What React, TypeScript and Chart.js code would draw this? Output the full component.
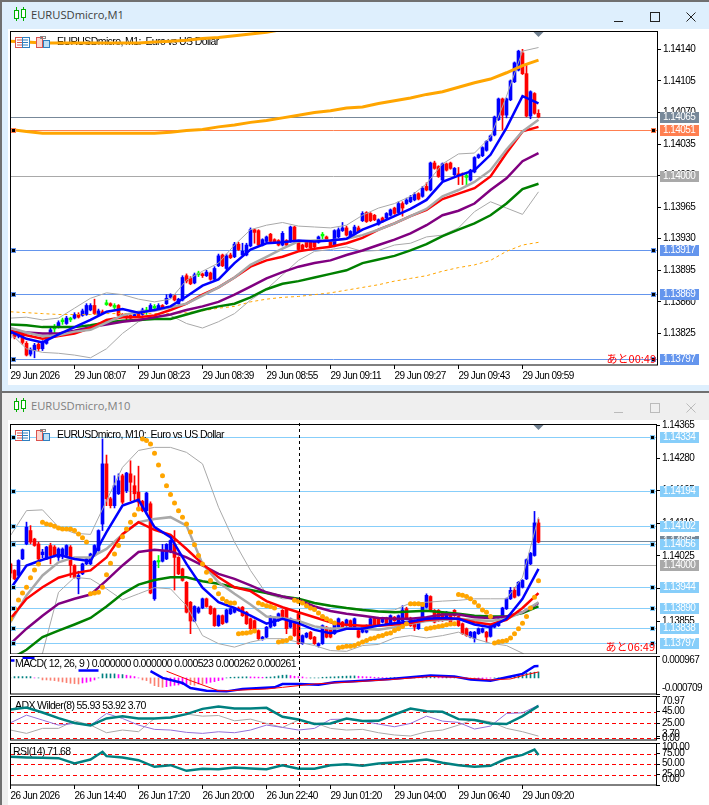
import React, { useEffect, useRef } from "react";
import { Chart, registerables } from "chart.js";
Chart.register(...registerables);

// All prices are in points above 1.13000 (824 = 1.13824, 1014 = 1.14014)
const sampleBars = Array.from({ length: 34 }, (_, k) => k * 4);
const allBars = Array.from({ length: 133 }, (_, k) => k);
const tickBars = [0, 16, 32, 48, 64, 80, 96, 112, 128];
const crosshairBar = 72;

const m1TimeLabels = ["29 Jun 2026","29 Jun 08:07","29 Jun 08:23","29 Jun 08:39","29 Jun 08:55","29 Jun 09:11","29 Jun 09:27","29 Jun 09:43","29 Jun 09:59"];
const m10TimeLabels = ["26 Jun 2026","26 Jun 14:40","26 Jun 17:20","26 Jun 20:00","26 Jun 22:40","29 Jun 01:20","29 Jun 04:00","29 Jun 06:40","29 Jun 09:20"];
const m1PriceTicks = [1140,1105,1070,1035,1000,965,930,895,860,825];
const m10PriceTicks = [1365,1280,1195,1110,1025,940,855];

const m1Open = [824,824,822,823,814,802,806,813,808,814,822,831,832,839,836,841,842,846,845,846,851,856,846,849,858,858,855,856,846,845,845,844,847,846,850,850,854,852,856,858,865,867,858,862,889,886,881,891,891,889,892,885,900,912,897,912,910,924,912,912,922,940,939,923,927,935,929,928,923,928,927,943,926,923,926,926,927,926,934,932,927,922,932,939,942,933,935,942,950,959,958,956,946,953,953,956,964,959,969,969,971,973,980,977,988,984,1014,1010,995,1013,1014,1001,1002,1002,999,995,1004,1020,1022,1028,1039,1045,1062,1085,1067,1084,1104,1117,1136,1113,1066,1091,1069];
const m1High = [832,826,828,825,816,809,814,815,817,820,831,835,839,842,844,843,848,848,852,858,858,863,852,851,862,859,858,857,847,846,846,848,848,853,854,858,857,858,857,868,869,868,864,889,891,888,892,894,892,895,893,899,913,913,913,914,926,926,925,925,942,941,940,930,933,936,930,929,938,929,944,944,927,924,927,927,928,933,937,933,928,940,942,948,944,939,945,944,960,960,959,957,952,954,959,963,965,971,971,975,978,981,981,988,992,1015,1016,1011,1014,1014,1015,1009,1009,1003,1002,1007,1021,1024,1032,1039,1045,1066,1086,1086,1086,1106,1126,1139,1140,1123,1094,1092,1073];
const m1Low = [820,819,820,813,800,800,798,806,806,813,821,826,831,835,835,838,841,842,844,845,850,846,845,847,856,855,852,844,843,840,841,843,843,845,846,849,851,851,852,857,864,861,857,861,881,879,880,888,887,888,884,884,899,899,895,908,909,917,911,911,921,925,922,922,926,926,925,922,922,922,926,926,917,917,920,919,920,925,930,927,921,921,931,938,933,932,934,937,949,948,949,950,945,948,952,955,957,958,955,968,970,972,973,976,983,983,1007,998,994,1005,1007,1000,990,990,989,994,1003,1019,1021,1027,1038,1044,1061,1051,1064,1083,1103,1116,1112,1065,1063,1068,1064];
const m1Close = [828,821,826,815,801,807,812,808,815,818,829,831,837,839,842,841,846,843,850,856,856,847,850,848,858,856,855,845,845,843,842,846,844,851,850,856,854,856,853,864,868,862,863,887,883,880,890,891,889,893,885,897,911,900,911,909,924,918,916,923,940,937,923,929,932,927,926,923,936,923,943,927,918,918,921,920,921,932,934,928,922,939,940,942,934,938,943,938,958,949,950,951,951,949,958,962,958,969,964,973,976,979,974,986,984,1014,1008,999,1013,1006,1008,1008,1001,1001,999,1006,1020,1023,1031,1038,1044,1065,1085,1067,1085,1105,1125,1138,1113,1066,1093,1069,1065];

const m1Blue = [827,819,815,824,832,840,849,852,848,851,855,866,878,885,903,918,925,926,928,927,928,930,940,947,955,963,973,993,1000,1006,1023,1053,1088,1080];
const m1Red = [828,823,819,822,825,831,840,843,843,845,851,858,868,876,887,899,906,910,916,919,921,925,931,940,947,955,962,974,980,986,999,1025,1049,1054];
const m1Gray = [831,826,822,823,827,829,837,845,849,850,854,858,867,876,887,901,910,919,927,928,928,930,934,940,947,955,963,977,984,993,1006,1029,1049,1062];
const m1Purple = [827,826,825,825,828,832,835,838,840,843,846,851,855,860,868,877,886,893,899,903,906,912,917,923,929,936,945,956,961,969,984,997,1016,1025];
const m1Green = [835,834,832,832,832,834,837,839,840,841,841,846,851,855,858,865,874,880,883,887,891,895,903,907,911,917,924,933,940,947,956,969,985,991];
const m1BandUp = [842,843,840,842,853,864,870,868,863,860,863,884,894,903,923,940,945,948,944,943,942,945,956,964,969,977,991,1013,1024,1025,1043,1088,1138,1142];
const m1BandLow = [825,808,804,803,801,798,808,825,838,843,845,836,831,838,847,862,874,890,906,916,918,921,916,917,923,925,932,934,942,960,971,964,957,982];
const m1OrangeA = [1051,1049,1047,1047,1047,1047,1047,1047,1047,1047,1048,1050,1051,1054,1056,1059,1061,1064,1067,1070,1072,1075,1076,1080,1083,1086,1090,1093,1098,1103,1107,1114,1122,1128];
const m1OrangeB = [1149,1148,1147,1147,1147,1147,1147,1147,1147,1148,1149,1150,1152,1153,1155,1157,1159,1162,1165,1168];
const m1OrangeDash = [849,848,847,846,846,846,847,847,847,847,847,848,850,853,855,860,863,865,866,868,870,873,876,879,883,886,889,894,898,901,906,916,923,926];

const m10Open = [1004,987,974,1017,1056,1091,1069,1056,1028,1017,1052,1048,1021,1026,1026,1048,1000,965,978,1004,1004,1026,1039,1108,1265,1174,1156,1187,1234,1195,1239,1208,1191,1167,1143,1161,913,1011,1011,1017,1035,1056,1021,991,956,904,855,878,889,913,893,887,843,869,852,874,878,889,891,878,861,856,830,809,813,839,843,856,883,887,839,856,874,796,813,826,813,791,796,839,835,822,839,852,843,856,839,830,826,826,843,863,863,852,863,848,865,852,856,887,863,856,835,854,891,919,883,883,878,858,874,883,867,848,835,813,809,822,826,826,815,839,843,861,887,913,935,922,943,965,1004,1026,1111];
const m10High = [1006,989,1015,1043,1113,1104,1071,1061,1042,1050,1058,1052,1046,1046,1054,1052,1002,985,1006,1019,1032,1054,1093,1330,1288,1178,1234,1239,1238,1243,1273,1234,1259,1170,1191,1166,1013,1026,1055,1057,1067,1091,1023,993,958,906,895,892,915,915,895,889,871,871,886,889,889,892,893,880,863,858,832,815,841,869,867,876,885,889,863,858,876,819,825,828,815,798,845,841,837,854,863,854,860,858,863,832,841,845,863,865,865,865,865,871,867,871,895,891,865,858,860,898,926,921,885,885,880,880,876,885,869,850,837,828,828,837,837,828,845,850,863,891,915,943,943,958,963,1017,1034,1141,1121];
const m10Low = [969,963,972,1015,1054,1056,1050,1013,1020,1015,1004,1022,1013,1017,1024,969,967,926,976,1002,1002,1024,1037,1091,1156,1150,1150,1185,1161,1190,1169,1169,1143,1140,1134,926,909,994,1009,1015,1033,936,976,959,876,822,853,875,887,891,872,841,841,846,850,872,876,881,867,846,833,830,807,805,811,837,841,854,859,822,837,815,794,794,811,807,794,787,794,811,811,820,837,837,841,837,837,811,824,824,841,841,841,850,846,846,854,850,854,861,841,830,833,852,889,881,850,854,854,856,850,867,841,820,815,811,800,820,824,800,813,837,841,859,885,911,915,920,941,963,1002,1024,1059];
const m10Close = [980,965,1013,1041,1100,1061,1052,1017,1035,1048,1026,1026,1043,1043,1052,1000,969,974,1004,1017,1030,1052,1091,1265,1174,1156,1208,1221,1165,1241,1217,1187,1165,1143,1189,928,1011,1011,1037,1055,1065,1021,978,961,878,855,893,889,913,893,874,843,869,848,884,887,887,883,869,848,835,832,809,813,839,867,865,874,861,835,861,817,796,817,823,809,796,796,843,813,813,852,861,839,858,839,861,813,839,843,861,843,843,863,848,869,856,869,884,863,843,839,858,896,922,883,852,856,856,878,852,869,843,822,817,826,826,835,835,813,843,848,861,889,913,935,917,956,961,1015,1032,1111,1061];

const m10Blue = [939,1000,1015,1028,1017,1011,1087,1156,1171,1100,1074,1004,942,904,889,869,848,861,849,832,823,835,835,843,849,854,861,863,861,846,839,861,913,991];
const m10Red = [861,913,943,968,980,987,1021,1082,1113,1093,1080,1043,1004,969,943,933,907,891,878,865,852,845,843,843,846,850,858,861,861,852,846,858,889,928];
const m10Gray = [852,922,974,1008,1021,1021,1043,1081,1113,1121,1126,1104,1004,956,926,898,867,863,855,841,835,837,835,832,839,848,855,858,861,858,855,861,878,904];
const m10Purple = [796,835,869,900,913,924,961,1000,1035,1041,1037,1021,1000,978,965,948,930,919,910,893,881,874,869,863,861,861,865,872,872,865,863,867,878,902];
const m10Green = [756,780,813,830,846,863,893,926,950,962,969,969,959,952,943,936,928,919,913,902,895,889,884,880,878,880,882,878,874,869,867,867,876,893];
const m10BandUp = [1078,1143,1145,1100,1084,1081,1169,1256,1300,1308,1308,1295,1265,1152,1061,987,926,913,913,900,893,889,887,882,884,902,904,907,909,913,913,913,969,1126];
const m10BandLow = [726,726,771,930,969,965,939,910,926,942,939,895,817,796,787,800,809,809,800,791,778,776,791,794,811,817,811,817,826,809,797,791,771,735];
const m10Sar = [861,887,910,928,943,968,988,1004,1113,1108,1106,1102,1098,1095,1095,1095,1091,1082,1072,1061,926,928,930,943,976,1006,1030,1052,1075,1095,1113,1132,1147,1330,1326,1317,1293,1262,1234,1208,1185,1163,1143,1126,1108,1087,1054,1026,1004,982,961,943,926,913,906,902,902,822,823,824,826,829,902,898,895,893,889,800,802,804,811,909,906,902,895,889,885,876,867,861,856,850,785,787,789,789,791,796,800,804,809,811,815,817,822,824,830,835,841,848,900,900,900,898,835,837,839,841,843,845,847,848,924,922,919,913,904,895,884,878,867,798,801,802,804,811,822,835,849,867,889,917,960];

// MACD values in millionths
const macdHist = [0,59,59,59,59,59,0,0,-89,-89,-104,-119,-148,-178,-208,-237,-252,-267,-222,-193,-148,-89,0,178,178,178,178,148,148,119,89,59,0,-89,-119,-237,-341,-386,-415,-386,-356,-326,-311,-297,-267,-297,-326,-267,-267,-237,-193,-163,-119,-89,0,30,35,40,45,50,45,40,35,30,35,40,59,89,119,125,104,74,59,44,0,0,0,0,30,35,44,50,59,74,80,85,89,74,59,50,44,30,20,15,10,10,15,15,20,20,15,15,10,15,30,40,44,40,30,30,20,20,0,0,-30,-40,-44,-40,-30,-20,-10,0,0,15,30,59,104,148,178,208,237,252,261];
const macdLineBars = [0,1,2,3,6,7,17,22,23,35,38,43,45,49,54,58,66,68,72,77,81,86,95,105,111,115,120,125,128,131,132];
const macdLineVals = [771,771,null,890,890,null,326,326,null,297,0,-222,-445,-564,-593,-489,-415,-267,-267,-297,-193,-148,-44,104,59,-74,-119,59,178,519,523];
const macdSignalBars = [39,45,52,54,64,68,76,86,95,105,111,120,125,129,132];
const macdSignalVals = [297,-119,-564,-564,-489,-415,-267,-170,-74,59,30,-89,-44,148,262];

const adxMain = [48.3,51.7,43.3,33.9,25.6,21.7,33.3,37.2,33.3,33.3,35,40.6,49.4,53.3,50,50,51.1,36.1,31.7,23.9,25,33.3,28.9,29.4,40,50,45.6,44.4,32.2,30.6,25,23.9,37.2,54.4];
const adxPlus = [26.1,38.9,30.6,22.2,25,21.7,41.7,33.3,22.2,15,13.9,10,8.3,11,9.4,13.9,22.2,18.3,13.9,16.7,31.7,32.2,28.9,23.9,19.4,25,37.2,28.9,26.7,15.6,20.6,41.7,42.8,55.6];
const adxMinus = [13.9,8.3,16.7,16.7,29.4,22.2,9.4,13.9,11.1,33.3,33.3,40.6,37.2,38.3,29.4,32.2,25,18.3,30.6,26.1,16.7,13.9,15,9.4,5.6,3.9,11.1,13.9,22.2,31.7,27.8,16.7,11.1,3.7];
const rsiBars = [0,4,8,12,16,20,23,24,28,32,36,40,44,48,52,56,60,64,68,72,76,80,84,88,92,96,100,104,108,112,116,120,124,128,131,132];
const rsiVals = [67,65.5,64.7,63.9,51.2,60.7,79,68.7,65.5,59.1,43.3,47.2,33.7,38.5,37.7,41.7,39.3,37.7,47.2,38.5,38.5,47.2,49.6,45.6,51.2,53.6,56.7,60.7,52.8,47.2,43.3,45.6,63.1,71.8,84.5,71.68];

const m1Levels = [
  { v: 1065, c: "#778899", mark: false }, { v: 1051, c: "#FF7F50", mark: true }, { v: 1000, c: "#A9A9A9", mark: false },
  { v: 917, c: "#6495ED", mark: true }, { v: 869, c: "#6495ED", mark: true }, { v: 797, c: "#6495ED", mark: true },
];
const m10Levels = [
  { v: 1334, c: "#87CEFA", mark: true }, { v: 1194, c: "#87CEFA", mark: true }, { v: 1102, c: "#87CEFA", mark: true },
  { v: 1065, c: "#778899", mark: false }, { v: 1056, c: "#87CEFA", mark: true }, { v: 1000, c: "#A9A9A9", mark: false },
  { v: 944, c: "#87CEFA", mark: true }, { v: 890, c: "#87CEFA", mark: true }, { v: 838, c: "#87CEFA", mark: true }, { v: 797, c: "#87CEFA", mark: true },
];
const macdAxis = [{ v: 967, t: "0.000967", y: 5.7 }, { v: -709, t: "-0.000709", y: 33.3 }];
const adxAxis = [{ v: 70.97, t: "70.97", y: 5.7 }, { v: 45, t: "45.00", y: 15 }, { v: 25, t: "25.00", y: 27 }, { v: 3.7, t: "3.70", y: 38 }, { v: 0, t: "0.00", y: 42 }];
const rsiAxis = [{ v: 100, t: "100.00", y: 5.7 }, { v: 75, t: "75.00", y: 11 }, { v: 50, t: "50.00", y: 21.7 }, { v: 25, t: "25.00", y: 32 }, { v: 0, t: "0.00", y: 37 }];

const AXIS_FONT = { family: "Liberation Sans", size: 10 };
const AXIS_CSS = "10px 'Liberation Sans'";
const TEXT_CSS = "10.5px 'Liberation Sans'";
const AXIS_SPACING = "-0.55px";
const TEXT_SPACING = "-0.6px";
const priceText = (v: number) => ((113000 + v) / 100000).toFixed(5);

const line = (xs: number[], ys: any[], color: string, width: number, order: number, dash?: number[]) => ({
  type: "line", data: xs.map((x, k) => (ys[k] === undefined ? { x, y: null } : { x, y: ys[k] })),
  borderColor: color, borderWidth: width, pointRadius: 0, tension: 0, spanGaps: false, order,
  borderDash: dash || [], borderCapStyle: "butt", borderJoinStyle: "miter", fill: false,
});

const candles = (o: number[], h: number[], l: number[], c: number[], minBody: number) => {
  const col = o.map((v, i) => (c[i] > v ? "#0000FF" : c[i] < v ? "#FF0000" : "#00FF00"));
  return [
    { type: "bar", grouped: false, barThickness: 1, order: 21, backgroundColor: col, borderWidth: 0,
      data: allBars.map((i) => ({ x: i, y: [l[i], h[i]] })) },
    { type: "bar", grouped: false, barThickness: 3, order: 20, backgroundColor: col, borderWidth: 0,
      data: allBars.map((i) => ({ x: i, y: o[i] === c[i] ? [c[i] - minBody, c[i] + minBody] : [Math.min(o[i], c[i]), Math.max(o[i], c[i])] })) },
  ];
};

const drawIcons = (ctx: any, y: number) => {
  ctx.save();
  ctx.lineWidth = 1;
  ctx.fillStyle = "#fff";
  ctx.fillRect(15, y, 15, 11);
  ctx.strokeStyle = "#D9534F";
  ctx.strokeRect(15.5, y + 0.5, 7, 10);
  ctx.strokeStyle = "#2F7FBF";
  ctx.strokeRect(22.5, y + 0.5, 7, 10);
  for (const d of [3, 5.5, 8]) {
    ctx.strokeStyle = "#D9534F"; ctx.beginPath(); ctx.moveTo(17, y + d); ctx.lineTo(22, y + d); ctx.stroke();
    ctx.strokeStyle = "#2F7FBF"; ctx.beginPath(); ctx.moveTo(23, y + d); ctx.lineTo(28, y + d); ctx.stroke();
  }
  ctx.fillStyle = "#FBD5CF"; ctx.fillRect(36, y, 7, 11);
  ctx.strokeStyle = "#D9534F"; ctx.strokeRect(36.5, y + 0.5, 6, 10);
  ctx.fillStyle = "#BFE0F5"; ctx.fillRect(43, y + 3, 7, 8);
  ctx.strokeStyle = "#2F7FBF"; ctx.strokeRect(43.5, y + 3.5, 6, 7);
  ctx.strokeStyle = "#888"; ctx.strokeRect(40.5, y - 0.5, 5, 2);
  ctx.restore();
};

const panePlugin = (cfg: any) => ({
  id: "pane",
  beforeDraw(chart: any) {
    chart.ctx.letterSpacing = AXIS_SPACING;
  },
  beforeDatasetsDraw(chart: any) {
    const { ctx, chartArea: a, scales } = chart;
    ctx.save();
    (cfg.dashLevels || []).forEach((v: number) => {
      const y = Math.round(scales.y.getPixelForValue(v)) + 0.5;
      ctx.strokeStyle = "#FF0000"; ctx.lineWidth = 1; ctx.setLineDash([4, 3]);
      ctx.beginPath(); ctx.moveTo(a.left, y); ctx.lineTo(a.right, y); ctx.stroke();
    });
    ctx.setLineDash([]);
    (cfg.levels || []).forEach((l: any) => {
      const y = Math.round(scales.y.getPixelForValue(l.v)) + 0.5;
      ctx.strokeStyle = l.c; ctx.lineWidth = 1;
      ctx.beginPath(); ctx.moveTo(a.left, y); ctx.lineTo(a.right, y); ctx.stroke();
    });
    if (cfg.legend) {
      ctx.fillStyle = "#000"; ctx.font = TEXT_CSS; ctx.textBaseline = "middle"; ctx.textAlign = "left";
      ctx.letterSpacing = TEXT_SPACING;
      ctx.fillText(cfg.legend, cfg.legendX, cfg.legendY);
    }
    ctx.restore();
  },
  afterDatasetsDraw(chart: any) {
    const { ctx, chartArea: a, scales } = chart;
    ctx.save();
    if (cfg.crosshair) {
      const x = Math.round(scales.x.getPixelForValue(crosshairBar)) + 0.5;
      ctx.strokeStyle = "#000"; ctx.lineWidth = 1; ctx.setLineDash([3, 3]);
      ctx.beginPath(); ctx.moveTo(x, a.top - 1); ctx.lineTo(x, a.bottom + 2); ctx.stroke();
      ctx.setLineDash([]);
    }
    if (cfg.triangle) {
      const x = scales.x.getPixelForValue(132);
      ctx.fillStyle = "#708090";
      ctx.beginPath(); ctx.moveTo(x - 5, a.top + 1); ctx.lineTo(x + 5, a.top + 1); ctx.lineTo(x, a.top + 6); ctx.closePath(); ctx.fill();
    }
    if (cfg.iconY) drawIcons(ctx, cfg.iconY);
    ctx.restore();
  },
  afterDraw(chart: any) {
    const { ctx, chartArea: a, scales } = chart;
    ctx.save();
    ctx.strokeStyle = "#000"; ctx.lineWidth = 1;
    ctx.strokeRect(a.left + 0.5, a.top + 0.5, a.right - a.left, a.bottom - a.top - 0.5);
    (cfg.levels || []).forEach((l: any) => {
      const y = Math.round(scales.y.getPixelForValue(l.v));
      if (l.mark) {
        for (const mx of [13, a.right - 4]) {
          ctx.fillStyle = l.c; ctx.fillRect(mx - 2, y - 2, 5, 5);
          ctx.fillStyle = "#000"; ctx.fillRect(mx - 1, y - 1, 3, 3);
        }
      }
    });
    (cfg.levels || []).forEach((l: any) => {
      const y = Math.round(scales.y.getPixelForValue(l.v));
      ctx.fillStyle = l.c; ctx.fillRect(660, y - 5, 39, 11);
      ctx.fillStyle = "#fff"; ctx.font = AXIS_CSS; ctx.textBaseline = "middle"; ctx.textAlign = "left";
      ctx.fillText(priceText(l.v), 663, y + 0.5);
    });
    if (cfg.timer) {
      ctx.letterSpacing = "0px";
      ctx.fillStyle = "#FF0000"; ctx.font = "11px 'Noto Sans CJK JP'"; ctx.textAlign = "right"; ctx.textBaseline = "middle";
      ctx.fillText(cfg.timer, a.right - 1, cfg.timerY);
      ctx.letterSpacing = AXIS_SPACING;
    }
    (cfg.axisText || []).forEach((t: any) => {
      ctx.fillStyle = "#000"; ctx.font = AXIS_CSS; ctx.textAlign = "left"; ctx.textBaseline = "middle";
      ctx.fillText(t.t, 662, t.y);
    });
    ctx.restore();
  },
});

const makeChart = (canvas: HTMLCanvasElement, c: any) =>
  new Chart(canvas, {
    type: "line",
    data: { datasets: c.datasets },
    plugins: [panePlugin(c.pane)],
    options: {
      responsive: false, animation: false, devicePixelRatio: 1, events: [],
      layout: { padding: c.padding, autoPadding: false },
      plugins: { legend: { display: false }, tooltip: { enabled: false } },
      scales: {
        x: {
          type: "linear", offset: false, min: -0.125, max: c.xMax, display: !!c.timeLabels,
          grid: { offset: false, drawOnChartArea: false, tickLength: 4, color: "#000", tickColor: "#000" },
          border: { display: false },
          afterBuildTicks: (s: any) => { s.ticks = tickBars.map((v) => ({ value: v })); },
          afterFit: (s: any) => { s.height = c.timeLabels ? 20 : 0; s.paddingLeft = 0; s.paddingRight = 0; },
          ticks: {
            autoSkip: false, maxRotation: 0, minRotation: 0, align: "start", padding: 1, color: "#000", font: AXIS_FONT,
            callback: (v: number) => (c.timeLabels ? c.timeLabels[tickBars.indexOf(v)] : ""),
          },
        },
        y: {
          type: "linear", position: "right", min: c.yMin, max: c.yMax,
          grid: { drawOnChartArea: false, tickLength: 4, color: "#000", tickColor: "#000" },
          border: { display: false },
          afterBuildTicks: (s: any) => { s.ticks = c.yTicks.map((v: number) => ({ value: v })); },
          afterFit: (s: any) => { s.width = c.axisWidth; s.paddingTop = 0; s.paddingBottom = 0; },
          ticks: { autoSkip: false, padding: 2, color: "#000", font: AXIS_FONT,
            callback: (v: number) => (c.priceAxis ? priceText(v) : "") },
        },
      },
    } as any,
  } as any);

const WindowChrome = ({ top, height, title, active }: any) => {
  const bg = active ? "#DEEFFD" : "#EFEFEF";
  const fg = active ? "#404040" : "#808080";
  const btn = active ? "#222" : "#BBB";
  return (
    <div style={{ position: "absolute", left: 0, top, width: 709, height, background: bg }}>
      <div style={{ position: "absolute", left: 0, top: 0, width: 709, height: 2, background: "#707070" }} />
      <div style={{ position: "absolute", left: 0, top: 0, width: 2, height, background: "#707070" }} />
      <svg style={{ position: "absolute", left: 13, top: 6 }} width={14} height={16}>
        <path d="M3.5 1V15M10.5 1V15" stroke="#00B000" strokeWidth={1} />
        <rect x={1.5} y={4.5} width={4} height={8} fill="#fff" stroke="#00B000" />
        <rect x={8.5} y={3.5} width={4} height={8} fill="#fff" stroke="#00B000" />
      </svg>
      <div style={{ position: "absolute", left: 31, top: 6, font: "11.2px 'Open Sans'", color: fg, lineHeight: "18px", whiteSpace: "nowrap" }}>{title}</div>
      <svg style={{ position: "absolute", left: 608, top: 8 }} width={95} height={16}>
        <path d="M6 13.5H15" stroke={btn} fill="none" />
        <rect x={42.5} y={4.5} width={9} height={9} stroke={btn} fill="none" />
        <path d="M78.5 4.5L87.5 13.5M87.5 4.5L78.5 13.5" stroke={btn} fill="none" />
      </svg>
      <div style={{ position: "absolute", left: 8, top: 29, width: 701, height: active ? height - 35 : height - 29, background: "#fff" }} />
    </div>
  );
};

export default function App() {
  const r1 = useRef<HTMLCanvasElement>(null);
  const r2 = useRef<HTMLCanvasElement>(null);
  const r3 = useRef<HTMLCanvasElement>(null);
  const r4 = useRef<HTMLCanvasElement>(null);
  const r5 = useRef<HTMLCanvasElement>(null);

  useEffect(() => {
    const s = sampleBars;
    const charts = [
      makeChart(r1.current!, {
        padding: { left: 10, top: 6, right: 0, bottom: 0 }, axisWidth: 52, xMax: 161.625, yMin: 790, yMax: 1160.3,
        yTicks: m1PriceTicks, priceAxis: true, timeLabels: m1TimeLabels,
        pane: { levels: m1Levels, legend: "EURUSDmicro, M1:  Euro vs US Dollar", legendX: 57, legendY: 17.5, iconY: 12, triangle: true, timer: "あと00:49", timerY: 334 },
        datasets: [
          ...candles(m1Open, m1High, m1Low, m1Close, 1),
          line(s, m1BandUp, "#A9A9A9", 1, 9), line(s, m1BandLow, "#A9A9A9", 1, 9),
          line(s, m1OrangeDash, "#FFA500", 1, 8, [3, 3]),
          line(s, m1Green, "#008000", 2.5, 7), line(s, m1Purple, "#800080", 2.5, 6),
          line(s, m1Red, "#FF0000", 2.5, 5), line(s, m1Gray, "#A9A9A9", 2.5, 4), line(s, m1Blue, "#0000FF", 2.5, 3),
          line(s, m1OrangeA, "#FFA500", 3, 2), line(s, m1OrangeB, "#FFA500", 3, 2),
        ],
      }),
      makeChart(r2.current!, {
        padding: { left: 10, top: 6, right: 0, bottom: 0 }, axisWidth: 53, xMax: 161.375, yMin: 769, yMax: 1369,
        yTicks: m10PriceTicks, priceAxis: true,
        pane: { levels: m10Levels, legend: "EURUSDmicro, M10:  Euro vs US Dollar", legendX: 57, legendY: 17, iconY: 12, triangle: true, crosshair: true, timer: "あと06:49", timerY: 229 },
        datasets: [
          ...candles(m10Open, m10High, m10Low, m10Close, 2),
          line(s, m10BandUp, "#A9A9A9", 1, 9), line(s, m10BandLow, "#A9A9A9", 1, 9),
          line(s, m10Green, "#008000", 2.5, 7), line(s, m10Purple, "#800080", 2.5, 6),
          line(s, m10Gray, "#A9A9A9", 2.5, 5), line(s, m10Red, "#FF0000", 2.5, 4), line(s, m10Blue, "#0000FF", 2.5, 3),
          { ...line(allBars, m10Sar, "#FFA500", 0, 2), showLine: false, pointRadius: 2.5, pointBackgroundColor: "#FFA500", pointBorderWidth: 0 },
        ],
      }),
      makeChart(r3.current!, {
        padding: { left: 10, top: 1, right: 0, bottom: 1 }, axisWidth: 53, xMax: 161.375, yMin: -709, yMax: 967,
        yTicks: [967, -709],
        pane: { legend: "MACD( 12, 26, 9 ) 0.000000 0.000000 0.000523 0.000262 0.000261", legendX: 15, legendY: 9, crosshair: true, axisText: macdAxis },
        datasets: [
          { type: "bar", grouped: false, barThickness: 1, order: 10, borderWidth: 0,
            backgroundColor: macdHist.map((v, i) => {
              const p = i ? macdHist[i - 1] : 0;
              if (v >= 0) return v >= p ? "#008080" : "#FF00FF";
              return v <= p ? "#FA8072" : "#FF00FF";
            }),
            data: allBars.map((i) => ({ x: i, y: macdHist[i] })) },
          line(macdLineBars, macdLineVals, "#0000FF", 2.5, 3),
          line(macdSignalBars, macdSignalVals, "#FF0000", 1, 2),
        ],
      }),
      makeChart(r4.current!, {
        padding: { left: 10, top: 0, right: 0, bottom: 1 }, axisWidth: 53, xMax: 161.375, yMin: -2.8, yMax: 71,
        yTicks: [71, 45, 25, 3.7, 0],
        pane: { dashLevels: [45, 25, 0], legend: "ADX Wilder(8) 55.93 53.92 3.70", legendX: 15, legendY: 10, crosshair: true, axisText: adxAxis },
        datasets: [
          line(s, adxMinus, "#A9A9A9", 1, 5), line(s, adxPlus, "#9370DB", 1, 4), line(s, adxMain, "#008080", 2.5, 3),
        ],
      }),
      makeChart(r5.current!, {
        padding: { left: 10, top: 1, right: 0, bottom: 0 }, axisWidth: 53, xMax: 161.375, yMin: 0, yMax: 100,
        yTicks: [100, 75, 50, 25, 0], timeLabels: m10TimeLabels,
        pane: { dashLevels: [75, 50, 25], legend: "RSI(14) 71.68", legendX: 13, legendY: 10, crosshair: true, axisText: rsiAxis },
        datasets: [line(rsiBars, rsiVals, "#008080", 2.5, 3)],
      }),
    ];
    return () => charts.forEach((c) => c.destroy());
  }, []);

  const cv = (ref: any, top: number, h: number) => (
    <canvas ref={ref} width={709} height={h} style={{ position: "absolute", left: 0, top, width: 709, height: h, display: "block" }} />
  );
  return (
    <div style={{ position: "fixed", left: 0, top: 0, width: 709, height: 805, overflow: "hidden", background: "#fff" }}>
      <WindowChrome top={0} height={391} title="EURUSDmicro,M1" active />
      <WindowChrome top={391} height={414} title="EURUSDmicro,M10" active={false} />
      {cv(r1, 25, 360)}
      {cv(r2, 418, 236)}
      {cv(r3, 655, 40)}
      {cv(r4, 696, 45)}
      {cv(r5, 742, 63)}
    </div>
  );
}
